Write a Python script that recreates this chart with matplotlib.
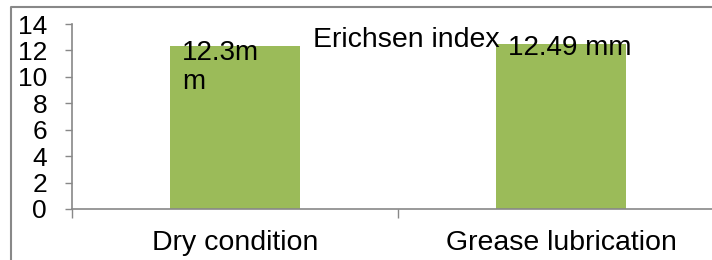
import matplotlib
matplotlib.use("Agg")
import matplotlib.pyplot as plt
from matplotlib.lines import Line2D

categories = ["Dry condition", "Grease lubrication"]
values = [12.3, 12.49]
labels = ["12.3m\nm", "12.49 mm"]
yticks = [0, 2, 4, 6, 8, 10, 12, 14]
title = "Erichsen index"

W, H = 712, 260
plt.rcParams['font.family'] = ['Liberation Sans', 'DejaVu Sans']
fig = plt.figure(figsize=(W / 100, H / 100), dpi=100)
ax = fig.add_axes([72 / W, 51 / H, (724 - 72) / W, (209 - 24) / H])

bar_color = "#9BBB59"
gray = "#888888"
x = list(range(len(categories)))
ax.bar(x, values, width=0.4, color=bar_color, zorder=2)
ax.set_xlim(-0.5, len(categories) - 0.5)
ax.set_ylim(0, 14)

for s in ["top", "right"]:
    ax.spines[s].set_visible(False)
for s in ["left", "bottom"]:
    ax.spines[s].set_color(gray)
    ax.spines[s].set_linewidth(1.2)

ax.set_yticks(yticks)
ax.set_yticklabels([str(t) for t in yticks])
ax.tick_params(axis='y', length=5, width=1, color=gray, labelsize=19, pad=13)
ax.set_xticks(x)
ax.set_xticklabels(categories)
ax.tick_params(axis='x', which='major', length=0, labelsize=20.5, pad=15)
ax.set_xticks([i - 0.5 for i in range(len(categories) + 1)], minor=True)
ax.tick_params(axis='x', which='minor', length=6.5, width=1, color=gray)

line_px = 32
for i, (v, lab) in enumerate(zip(values, labels)):
    extra = lab.count("\n")
    ax.annotate(lab, xy=(i, v), xytext=(-53, -11 - line_px * extra),
                textcoords='offset pixels',
                ha='left', va='baseline', fontsize=20, linespacing=1.15, zorder=3)

fig.text(313 / W, 1 - 47 / H, title, ha='left', va='baseline', fontsize=20.5)

# outer frame (left and top borders)
fig.add_artist(Line2D([11 / W, 11 / W, 1], [0, 1 - 7 / H, 1 - 7 / H],
                      transform=fig.transFigure, color=gray, linewidth=1.5))

fig.savefig("out.png", dpi=100)
